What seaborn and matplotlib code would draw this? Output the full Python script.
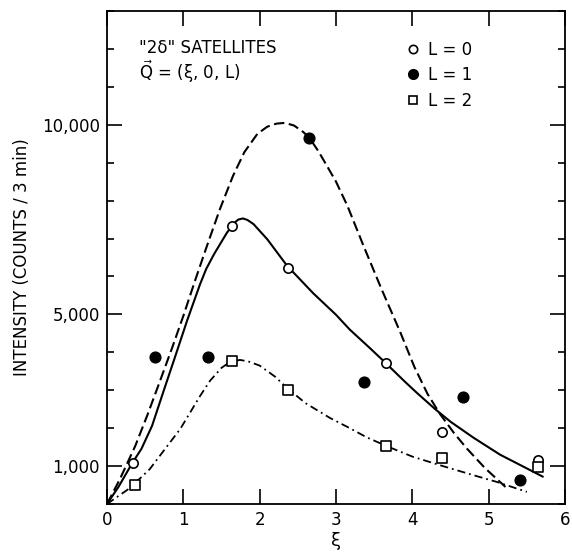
import matplotlib
matplotlib.use("Agg")
import matplotlib.pyplot as plt
from matplotlib.lines import Line2D
from matplotlib.ticker import FixedLocator, MultipleLocator, FuncFormatter
import seaborn as sns

# measured points
l0_x = [0.34, 1.64, 2.37, 3.66, 4.39, 5.64]
l0_y = [1080, 7335, 6230, 3720, 1900, 1160]
l1_x = [0.63, 1.32, 2.65, 3.37, 4.67, 5.41]
l1_y = [3880, 3880, 9660, 3220, 2820, 630]
l2_x = [0.37, 1.64, 2.37, 3.66, 4.39, 5.64]
l2_y = [500, 3770, 3010, 1530, 1210, 975]

# hand-drawn guide curves
solid_x = [0, 0.15, 0.34, 0.45, 0.59, 0.75, 0.90, 1.05, 1.22, 1.30, 1.40, 1.57, 1.66, 1.72, 1.78, 1.84,
           1.92, 2.10, 2.36, 2.70, 3.00, 3.18, 3.45, 3.66, 3.90, 4.06, 4.30, 4.50, 4.80, 5.15, 5.45, 5.71]
solid_y = [0, 450, 1110, 1450, 2060, 3030, 3930, 4840, 5800, 6200, 6580, 7150, 7400, 7500, 7530, 7490,
           7380, 6980, 6280, 5560, 4990, 4600, 4100, 3700, 3230, 2930, 2500, 2170, 1750, 1300, 990, 720]
dashed_x = [0, 0.17, 0.37, 0.53, 0.69, 0.85, 1.00, 1.15, 1.31, 1.48, 1.65, 1.80, 1.97, 2.10, 2.22,
            2.33, 2.45, 2.57, 2.65, 2.77, 2.88, 3.00, 3.15, 3.36, 3.60, 3.84, 4.03, 4.20, 4.36, 4.55,
            4.72, 4.95, 5.22]
dashed_y = [0, 660, 1530, 2350, 3220, 4100, 4960, 5870, 6810, 7780, 8650, 9280, 9760, 9950, 10030,
            10050, 9980, 9810, 9660, 9300, 8920, 8500, 7860, 6810, 5650, 4540, 3600, 2900, 2380, 1860,
            1450, 950, 450]
dashdot_x = [0, 0.30, 0.56, 0.79, 0.96, 1.22, 1.35, 1.50, 1.60, 1.74, 1.85, 2.00, 2.20, 2.37, 2.60,
             2.92, 3.18, 3.40, 3.66, 4.00, 4.40, 4.80, 5.11, 5.50]
dashdot_y = [0, 420, 920, 1530, 1980, 2850, 3250, 3590, 3730, 3800, 3760, 3650, 3360, 3040, 2660,
             2270, 2000, 1760, 1530, 1250, 1000, 760, 580, 320]

y_major = [1000, 5000, 10000]

sns.set_style("ticks")
plt.rcParams['font.family'] = ['DejaVu Sans']
plt.rcParams['text.color'] = 'black'
plt.rcParams['axes.labelcolor'] = 'black'

fig = plt.figure(figsize=(5.72, 5.54), dpi=100)
ax = fig.add_axes([107/572, 1 - 504/554, 458/572, 493/554])

sns.lineplot(x=solid_x, y=solid_y, sort=False, color='black', lw=1.5, ax=ax)
sns.lineplot(x=dashed_x, y=dashed_y, sort=False, color='black', lw=1.5, ax=ax)
ax.lines[-1].set_dashes([5, 2.2])
sns.lineplot(x=dashdot_x, y=dashdot_y, sort=False, color='black', lw=1.3, ax=ax)
ax.lines[-1].set_dashes([4.5, 2.2, 1, 2.2])

sns.scatterplot(x=l0_x, y=l0_y, marker='o', s=45, facecolor='white', edgecolor='black',
                linewidth=1.2, ax=ax, zorder=5)
sns.scatterplot(x=l1_x, y=l1_y, marker='o', s=60, facecolor='black', edgecolor='black',
                linewidth=1.0, ax=ax, zorder=5)
sns.scatterplot(x=l2_x, y=l2_y, marker='s', s=45, facecolor='white', edgecolor='black',
                linewidth=1.2, ax=ax, zorder=5)

ax.set_xlim(0, 6)
ax.set_ylim(0, 13000)
ax.xaxis.set_major_locator(MultipleLocator(1))
ax.yaxis.set_major_locator(FixedLocator(y_major))
ax.yaxis.set_minor_locator(MultipleLocator(1000))
ax.yaxis.set_major_formatter(FuncFormatter(lambda v, p: f"{int(v):,}"))
ax.tick_params(which='both', direction='in', top=True, right=True, labelsize=12,
               width=1.2, colors='black')
ax.tick_params(which='major', length=11, pad=5)
ax.tick_params(which='minor', length=5)
ax.tick_params(axis='x', which='minor', bottom=False, top=False)
for s in ax.spines.values():
    s.set_linewidth(1.3)
    s.set_color('black')

ax.set_xlabel("ξ", fontsize=13, labelpad=2)
ax.set_ylabel("INTENSITY (COUNTS / 3 min)", fontsize=12, labelpad=8)

ax.text(0.07, 0.925, '"2δ" SATELLITES', transform=ax.transAxes, fontsize=12, va='center')
ax.text(0.07, 0.876, r'$\vec{\mathrm{Q}}$ = (ξ, 0, L)', transform=ax.transAxes, fontsize=12, va='center')

handles = [
    Line2D([], [], ls='none', marker='o', ms=6, mfc='white', mec='black', mew=1.2),
    Line2D([], [], ls='none', marker='o', ms=7, mfc='black', mec='black'),
    Line2D([], [], ls='none', marker='s', ms=6, mfc='white', mec='black', mew=1.2),
]
ax.legend(handles, ["L = 0", "L = 1", "L = 2"], loc='upper left', bbox_to_anchor=(0.614, 0.97),
          frameon=False, fontsize=12, handletextpad=0.3, labelspacing=0.45, handlelength=1.2)

fig.savefig("out.png", dpi=100)
